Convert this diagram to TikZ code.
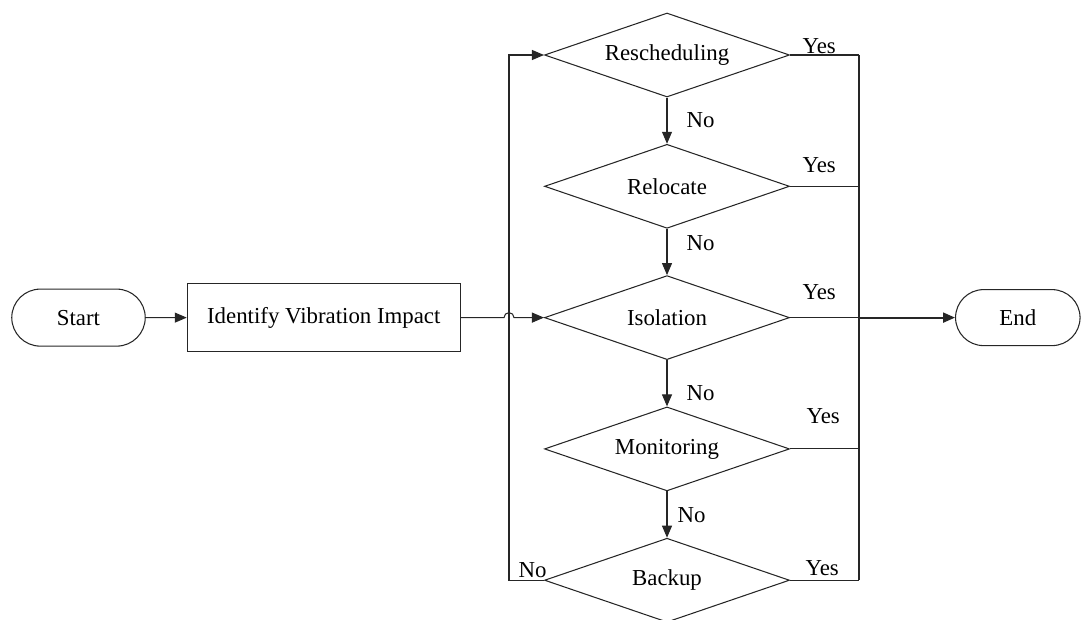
\documentclass[tikz,border=0pt]{standalone}
\usepackage{fontspec}
\setmainfont{Liberation Serif}
\usepackage{tikz}
\usetikzlibrary{arrows.meta,positioning,shapes.geometric,shapes.misc}
\tikzset{
  term/.style={draw, rounded rectangle, align=center, minimum height=1.14cm, minimum width=2.74cm, inner sep=1pt, font=\fontsize{13}{15}\selectfont},
  proc/.style={draw, rectangle, align=center, minimum height=1.36cm, minimum width=5.46cm, inner sep=1pt, font=\fontsize{13}{15}\selectfont},
  dec/.style={draw, diamond, aspect=2.9, align=center, inner sep=0pt, minimum width=4.9cm, minimum height=1.68cm, font=\fontsize{13}{15}\selectfont},
  ln/.style={line width=0.6pt, draw=black!85},
  arr/.style={ln, -{Triangle[length=2.4mm, width=2mm]}},
  lbl/.style={font=\fontsize{13}{15}\selectfont, inner sep=0pt}
}

\begin{document}
\begin{tikzpicture}[node distance=0.925cm and 0.82cm, every node/.style={line width=0.6pt, draw=black!85}]
  \useasboundingbox (0,0) rectangle (21.66,-12.38);
  \node[dec] (res) at (13.34,-1.1) {Rescheduling};
  \node[dec, below=of res] (rel) {Relocate};
  \node[dec, below=of rel] (iso) {Isolation};
  \node[dec, below=of iso] (mon) {Monitoring};
  \node[dec, below=of mon] (bak) {Backup};
  \coordinate (left) at (1.57,0);
  \node[term] (start) at (left |- iso) {Start};
  \node[proc, right=0.82cm of start] (ident) {Identify Vibration Impact};
  \node[term, minimum width=2.56cm, minimum height=1.12cm, right=3.3cm of iso] (end) {End};
  \coordinate (busL) at (10.18,0);
  \coordinate (busR) at (17.18,0);
  \coordinate (hop) at (busL |- iso.west);
  % main flow
  \draw[arr] (start) -- (ident);
  \draw[arr] (ident.east) -- ([xshift=-0.1cm]hop) arc[start angle=180, end angle=0, radius=0.1cm] -- (iso.west);
  \draw[arr] (res) -- (rel);
  \draw[arr] (rel) -- (iso);
  \draw[arr] (iso) -- (mon);
  \draw[arr] (mon) -- (bak);
  % no -> back to top
  \draw[arr] (bak.west) -- (bak.west -| busL) -- (res.west -| busL) -- (res.west);
  % yes -> end
  \foreach \d in {res,rel,iso,mon,bak}
    \draw[ln] (\d.east) -- (\d.east -| busR);
  \draw[ln] (res.east -| busR) -- (bak.east -| busR);
  \draw[arr, line width=1.1pt] (iso.east -| busR) -- (end);
  % labels
  \node[lbl, draw=none, anchor=base west] (y1) at ([xshift=0.24cm, yshift=0.04cm]res.east) {Yes};
  \node[lbl, draw=none, anchor=base west] (y2) at ([xshift=0.24cm, yshift=0.28cm]rel.east) {Yes};
  \node[lbl, draw=none, anchor=base west] (y3) at ([xshift=0.24cm, yshift=0.36cm]iso.east) {Yes};
  \node[lbl, draw=none, anchor=base west] (y4) at ([xshift=0.32cm, yshift=0.5cm]mon.east) {Yes};
  \node[lbl, draw=none, anchor=base west] (y5) at ([xshift=0.3cm, yshift=0.1cm]bak.east) {Yes};
  \node[lbl, draw=none, anchor=base west] (n1) at ([xshift=0.38cm, yshift=-0.6cm]res.south) {No};
  \node[lbl, draw=none, anchor=base west] (n2) at ([xshift=0.38cm, yshift=-0.44cm]rel.south) {No};
  \node[lbl, draw=none, anchor=base west] (n3) at ([xshift=0.38cm, yshift=-0.8cm]iso.south) {No};
  \node[lbl, draw=none, anchor=base west] (n4) at ([xshift=0.2cm, yshift=-0.62cm]mon.south) {No};
  \node[lbl, draw=none, anchor=base east] (n5) at ([xshift=0.06cm, yshift=0.06cm]bak.west) {No};
\end{tikzpicture}
\end{document}
